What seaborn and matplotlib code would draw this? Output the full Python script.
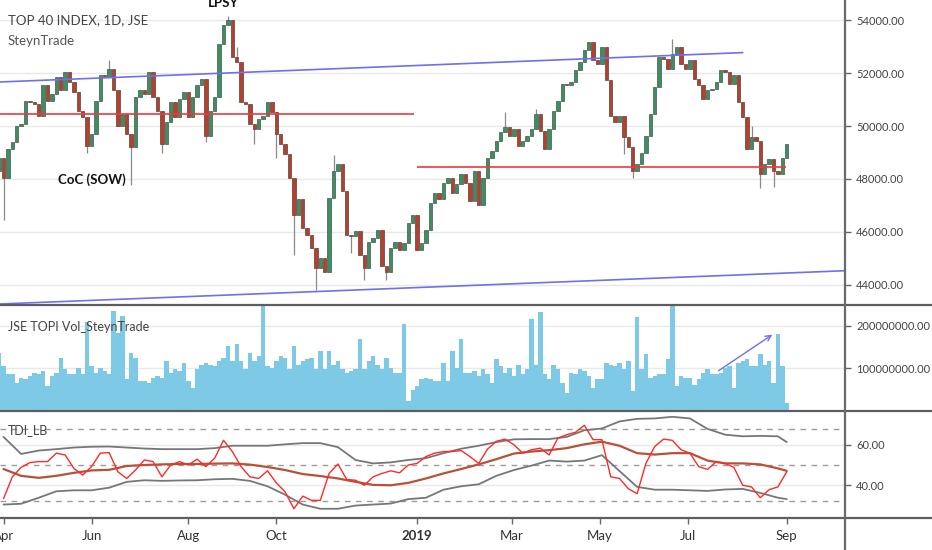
import numpy as np
import matplotlib
matplotlib.use("Agg")
import matplotlib.pyplot as plt
from matplotlib.lines import Line2D
import seaborn as sns

# ---- data ----
# candles, one every 2 trading days (day index = 2*i - 2)
first_open = 48300
closes = [
    48800, 48050, 49130, 49380, 50010, 50080, 50960, 50900, 50830, 50390,
    51530, 50960, 51210, 51850, 51340, 52040, 51660, 51280, 50580, 50330,
    49250, 49700, 50960, 51910, 51850, 52160, 51340, 50010, 50450, 49700,
    49190, 51090, 51340, 51210, 52040, 51090, 50580, 49310, 50140, 50900,
    50330, 51030, 51280, 50330, 51090, 51530, 51780, 49630, 50580, 51090,
    53110, 53810, 54000, 52610, 52420, 50900, 50830, 50080, 49880, 50270,
    50390, 50900, 50520, 49700, 49310, 48940, 48050, 46660, 47230, 46150,
    45900, 45390, 44630, 45010, 44500, 47300, 48300, 48560, 47540, 45900,
    45840, 46030, 45140, 44630, 45640, 45770, 46090, 44700, 44500, 45390,
    45640, 45330, 45580, 46340, 46660, 45330, 45600, 46090, 47100, 47480,
    47230, 47860, 48050, 47480, 47800, 48180, 47860, 47160, 48300, 47030,
    48050, 48810, 49060, 49440, 49760, 49950, 49630, 49880, 49250, 49440,
    49630, 49880, 50450, 49820, 49130, 49880, 50580, 50960, 51600, 51530,
    51660, 52100, 52420, 52860, 53180, 52480, 52350, 52990, 51720, 50390,
    50140, 50390, 49570, 49190, 48300, 48560, 49000, 49630, 50450, 51470,
    52610, 52540, 52160, 52730, 52990, 52350, 52160, 52480, 51780, 51530,
    51030, 51340, 51400, 51660, 52100, 52040, 51600, 51910, 50900, 50330,
    49130, 49570, 49440, 48180, 48560, 48750, 48300, 48180, 48810, 49320,
]
# visible long wicks (candle number -> price)
low_wicks = {1: 46450, 20: 49000, 30: 47760, 37: 49000, 47: 49400, 58: 49310,
             63: 48810, 67: 45140, 72: 43810, 80: 45200, 83: 44190, 88: 44200,
             142: 48950, 144: 48050, 173: 47670, 176: 47700}
high_wicks = {25: 52500, 52: 54150, 54: 53000, 76: 48900, 115: 50520,
              122: 50640, 153: 53270, 171: 50000}

volume_m = [
    137, 105, 86, 86, 66, 78, 74, 82, 90, 86, 94,
    58, 82, 90, 125, 98, 86, 86, 102, 86, 208,
    105, 90, 102, 94, 86, 235, 184, 224, 74, 137,
    125, 70, 70, 66, 78, 82, 78, 117, 90, 98,
    94, 113, 70, 54, 98, 109, 113, 109, 105, 117,
    125, 153, 117, 157, 117, 98, 137, 117, 129, 246,
    105, 102, 117, 129, 125, 98, 153, 109, 117, 121,
    125, 98, 141, 98, 141, 109, 117, 98, 90, 94,
    98, 168, 98, 117, 129, 109, 98, 125, 102, 90,
    90, 204, 23, 50, 58, 74,
    78, 74, 70, 70,
    113, 70, 141, 102, 168, 90, 90, 94, 82, 98,
    86, 66, 121, 105, 90, 102, 82, 109, 86, 98,
    216, 109, 233, 86, 74, 109, 98, 66, 43, 90,
    86, 98, 94, 82, 54, 74, 74, 113, 109, 105,
    113, 98, 117, 46, 220, 98, 133, 78, 82, 86,
    86, 121, 247, 58, 82, 78, 78, 62, 74, 90,
    98, 86, 86, 90, 102, 105, 54, 113, 117, 121,
    105, 105, 133, 109, 117, 66, 180, 105, 19,
]

# TDI: RSI line every 4 trading days, bands every 8
tdi_rsi = [
    33.2, 44.1, 48.8, 51.2, 51.7, 51.7, 55.9, 55.0, 48.3, 45.0,
    49.2, 55.9, 56.2, 46.6, 43.3, 47.5, 52.5, 51.7, 44.1, 50.0,
    51.7, 50.0, 52.9, 49.2, 53.4, 62.3, 56.7, 49.2, 44.1, 43.3,
    47.1, 41.1, 36.6, 28.2, 34.5, 32.4, 32.4, 45.8, 50.5, 42.8,
    42.4, 39.9, 44.1, 45.8, 47.1, 46.1, 50.0, 50.8, 54.2, 55.9,
    56.7, 56.7, 57.2, 54.2, 50.8, 57.9, 61.8, 62.9, 60.1, 55.9,
    57.6, 58.4, 55.0, 63.4, 65.1, 66.3, 69.8, 62.6, 62.6, 44.1,
    43.3, 38.2, 35.7, 50.8, 59.2, 62.9, 62.3, 57.6, 55.9, 49.2,
    47.8, 51.7, 50.8, 48.8, 39.9, 39.1, 33.7, 37.7, 39.1, 46.6,
]
tdi_upper = [
    64.0, 55.5, 57.2, 57.9, 58.7, 59.1, 59.2, 58.7, 58.2, 57.9,
    57.9, 57.9, 58.4, 59.6, 59.6, 59.6, 60.3, 60.9, 60.9, 58.9,
    52.5, 50.8, 51.3, 52.5, 53.4, 55.9, 58.1, 59.6, 61.4, 62.8,
    62.9, 62.9, 64.0, 67.3, 68.2, 71.7, 73.0, 73.2, 74.0, 73.2,
    68.0, 65.1, 64.3, 64.5, 64.3, 61.4,
]
tdi_mid = [
    48.0, 44.6, 43.6, 44.6, 46.1, 47.3, 47.6, 49.5, 50.0, 50.3,
    50.5, 50.5, 50.7, 50.8, 50.2, 49.0, 47.5, 45.5, 44.5, 43.3,
    41.6, 40.1, 39.9, 41.1, 43.3, 45.8, 48.0, 50.3, 52.9, 55.7,
    56.7, 57.4, 58.4, 60.3, 61.6, 59.6, 55.9, 55.2, 55.9, 55.9,
    52.2, 50.8, 50.8, 50.3, 48.3, 47.1,
]
tdi_lower = [
    30.3, 30.7, 33.7, 36.9, 37.4, 37.4, 38.7, 41.6, 42.4, 42.1,
    42.3, 42.4, 42.9, 43.1, 42.1, 39.4, 35.2, 30.3, 28.2, 28.2,
    29.8, 30.3, 30.8, 33.0, 33.7, 37.7, 39.4, 40.4, 44.6, 47.5,
    49.7, 52.2, 51.7, 52.2, 54.9, 47.0, 39.1, 37.7, 37.7, 37.4,
    37.1, 37.8, 38.1, 36.1, 33.7, 33.0,
]

month_labels = ["Apr", "Jun", "Aug", "Oct", "2019", "Mar", "May", "Jul", "Sep"]
month_days = [0, 40, 84, 124, 188, 231, 271, 311, 356]

# drawn lines (day, price)
upper_channel = ([-2, 336], [51660, 52770])
lower_channel = ([-2, 383], [43282, 44540])
support_1 = ([-2, 186.5], 50440)
support_2 = ([188, 355.5], 48450)
vol_arrow = ((324, 91e6), (350.5, 183e6))

# ---- figure ----
sns.set_style("white")
plt.rcParams["font.family"] = ["Lato", "DejaVu Sans"]

W, H = 932, 550
fig = plt.figure(figsize=(W / 100, H / 100), dpi=100)


def px_axes(x0, y0, x1, y1):
    return fig.add_axes([x0 / W, 1 - y1 / H, (x1 - x0) / W, (y1 - y0) / H])


ax = px_axes(0, 0, 845, 305)
ax_vol = px_axes(0, 305, 845, 411)
ax_tdi = px_axes(0, 411, 845, 518)

xlim = (-1.6, 382.5)
grid_col = "#e9e9e9"
tick_col = "#444444"

# candles
closes_a = np.array(closes, dtype=float)
opens = np.r_[first_open, closes_a[:-1]]
days = np.arange(len(closes_a)) * 2 - 2
body_lo = np.minimum(opens, closes_a)
body_hi = np.maximum(opens, closes_a)
body_h = np.maximum(body_hi - body_lo, 30)
up = closes_a >= opens

for i, lo in low_wicks.items():
    ax.vlines(days[i], lo, body_lo[i], color="#8a8a8a", lw=0.9, zorder=2)
for i, hi in high_wicks.items():
    ax.vlines(days[i], body_hi[i], hi, color="#8a8a8a", lw=0.9, zorder=2)

ax.bar(days[up], body_h[up], bottom=body_lo[up], width=1.6,
       color="#3d8f62", edgecolor="#2a3a30", linewidth=0.4, zorder=3)
ax.bar(days[~up], body_h[~up], bottom=body_lo[~up], width=1.6,
       color="#b5402e", edgecolor="#3a2520", linewidth=0.4, zorder=3)

ax.plot(*upper_channel, color="#6f6ff0", lw=1.2, zorder=4)
ax.plot(*lower_channel, color="#6f6ff0", lw=1.2, zorder=4)
ax.hlines(support_1[1], *support_1[0], color="#f03a3a", lw=1.2, zorder=4)
ax.hlines(support_2[1], *support_2[0], color="#f03a3a", lw=1.2, zorder=4)

ax.set_ylim(43245, 54755)
ax.set_yticks(range(44000, 54001, 2000))
ax.set_yticklabels([f"{v:.2f}" for v in range(44000, 54001, 2000)])
for v in range(44000, 54001, 2000):
    ax.axhline(v, color=grid_col, lw=1, zorder=0)

ax.text(100, 54640, "LPSY", ha="center", va="center", fontsize=9.5,
        fontweight="bold", color="#111111")
ax.text(40, 47960, "CoC (SOW)", ha="center", va="center", fontsize=9.5,
        fontweight="bold", color="#111111")

# volume
ax_vol.bar(days, np.array(volume_m) * 1e6, width=2.0, color="#7ecae6",
           linewidth=0, zorder=2)
ax_vol.set_ylim(0, 2.49e8)
ax_vol.set_yticks([1e8, 2e8])
ax_vol.set_yticklabels(["100000000.00", "200000000.00"])
for v in [1e8, 2e8]:
    ax_vol.axhline(v, color=grid_col, lw=1, zorder=0)
ax_vol.annotate("", xy=vol_arrow[1], xytext=vol_arrow[0],
                arrowprops=dict(arrowstyle="->", color="#6f6ff0", lw=1.0),
                zorder=5)

# TDI
rsi_days = np.arange(len(tdi_rsi)) * 4
band_days = np.r_[np.arange(0, 353, 8), 356]
for v in [40, 60]:
    ax_tdi.axhline(v, color=grid_col, lw=1, zorder=0)
for v in [32, 50, 68]:
    ax_tdi.axhline(v, color="#9c9c9c", lw=1, ls=(0, (4, 4)), zorder=1)
sns.lineplot(x=band_days, y=tdi_upper, ax=ax_tdi, color="#777777", lw=1.3)
sns.lineplot(x=band_days, y=tdi_lower, ax=ax_tdi, color="#777777", lw=1.3)
sns.lineplot(x=band_days, y=tdi_mid, ax=ax_tdi, color="#b8503a", lw=1.6)
sns.lineplot(x=rsi_days, y=tdi_rsi, ax=ax_tdi, color="#ff2a2a", lw=1.0)
ax_tdi.set_ylim(23.6, 76.9)
ax_tdi.set_yticks([40, 60])
ax_tdi.set_yticklabels(["40.00", "60.00"])
ax_tdi.set_xticks(month_days)
ax_tdi.set_xticklabels(month_labels)
for lbl in ax_tdi.get_xticklabels():
    if lbl.get_text() == "2019":
        lbl.set_fontweight("bold")
ax_tdi.set_xlabel("")
ax_tdi.set_ylabel("")

for a in (ax, ax_vol, ax_tdi):
    a.set_xlim(*xlim)
    a.yaxis.tick_right()
    a.tick_params(axis="y", direction="out", length=4, width=1, color="#666666",
                  labelsize=8, labelcolor=tick_col, pad=4)
    for s in a.spines.values():
        s.set_visible(False)
    if a is not ax_tdi:
        a.set_xticks([])
ax_tdi.tick_params(axis="x", direction="out", length=4, width=1, color="#666666",
                   labelsize=9.5, labelcolor="#333333", pad=5, bottom=True)

# panel borders
for y in (305, 411, 518):
    fig.add_artist(Line2D([0, 1], [1 - y / H] * 2, transform=fig.transFigure,
                          color="#5e5e5e", lw=1.6))
fig.add_artist(Line2D([845 / W] * 2, [0, 1], transform=fig.transFigure,
                      color="#6a6a6a", lw=1.6))

# legends
def ftext(x, y, s, **kw):
    fig.text(x / W, 1 - y / H, s, va="center", ha="left", **kw)


ftext(8, 20, "TOP 40 INDEX, 1D, JSE", fontsize=9.5, color="#444444")
ftext(8, 41, "SteynTrade", fontsize=9.5, color="#555555")
ftext(8, 327, "JSE TOPI Vol_SteynTrade", fontsize=9, color="#444444")
ftext(8, 430, "TDI_LB", fontsize=9, color="#444444")

fig.savefig("out.png", dpi=100)
